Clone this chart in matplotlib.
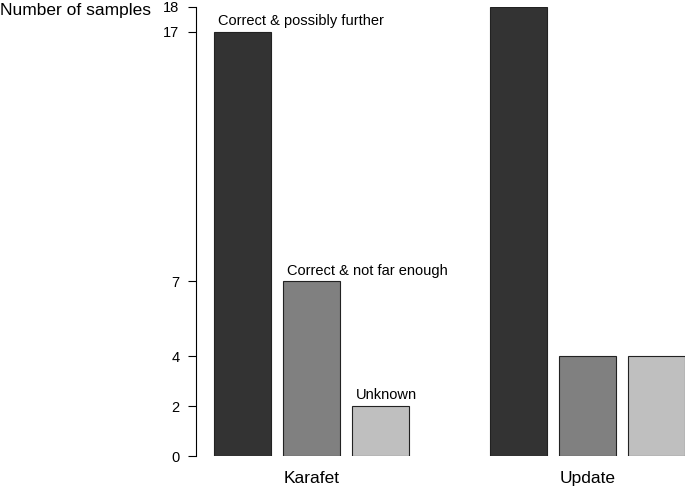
import numpy as np
import matplotlib
matplotlib.use("Agg")
import matplotlib.pyplot as plt

# data
groups = ["Karafet", "Update"]
categories = ["Correct & possibly further", "Correct & not far enough", "Unknown"]
karafet = [17, 7, 2]
update = [18, 4, 4]
yticks = [0, 2, 4, 7, 17, 18]
colors = ["#333333", "#808080", "#bfbfbf"]

plt.rcParams['font.family'] = ['Liberation Sans', 'DejaVu Sans']

fig = plt.figure(figsize=(6.85, 4.87), dpi=100)
ax = fig.add_axes([196 / 685, 31 / 487, 490 / 685, 449 / 487])

width = 1.0
step = 1.2
group_starts = [0.0, 4.8]

for g, (start, vals) in enumerate(zip(group_starts, [karafet, update])):
    for i, v in enumerate(vals):
        x = start + i * step
        ax.bar(x, v, width=width, align='edge', color=colors[i],
               edgecolor='#222222', linewidth=0.8)
        # category labels only on the first group
        if g == 0:
            ax.text(x + 0.07, v + 0.15, categories[i], fontsize=10.5,
                    ha='left', va='bottom')

centers = [s + (2 * step + width) / 2 for s in group_starts]
for c, name in zip(centers, groups):
    ax.text(c, -1.08, name, fontsize=12.5, ha='center', va='baseline')

ax.set_xlim(-0.313, 8.21)
ax.set_ylim(0, 18)
ax.set_yticks(yticks)
ax.set_yticklabels([str(t) for t in yticks], fontsize=10.5)
ax.tick_params(axis='y', length=6, width=0.8, pad=6)
ax.set_xticks([])
for s in ['top', 'right', 'bottom']:
    ax.spines[s].set_visible(False)
ax.spines['left'].set_linewidth(0.8)
ax.spines['left'].set_bounds(0, 18)

fig.text(0, 1 - 15.5 / 487, "Number of samples", fontsize=12.5, ha='left', va='baseline')

fig.savefig("out.png", dpi=100)
